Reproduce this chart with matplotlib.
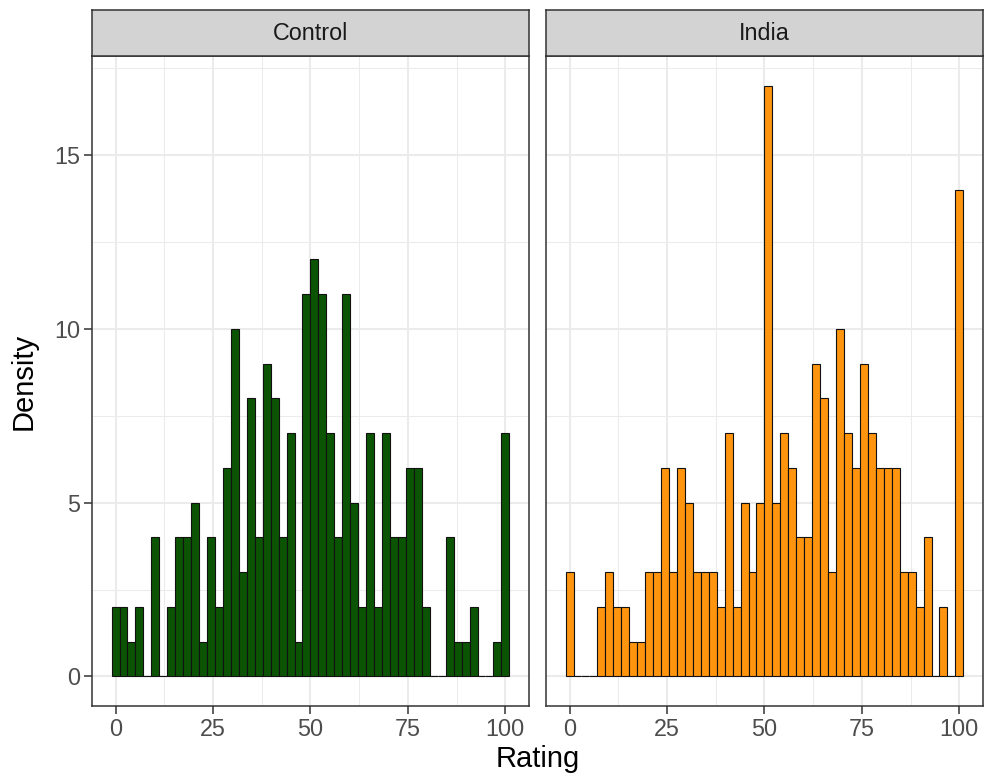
import numpy as np
import matplotlib
matplotlib.use("Agg")
import matplotlib.pyplot as plt

plt.rcParams['font.family'] = ['Liberation Sans', 'DejaVu Sans']

# histogram counts per bin (50 bins over 0-100)
control_counts = [2, 2, 1, 2, 0, 4, 0, 2, 4, 4,
                  5, 1, 4, 2, 6, 10, 3, 8, 4, 9,
                  8, 4, 7, 1, 11, 12, 11, 7, 4, 11,
                  5, 2, 7, 2, 7, 4, 4, 6, 6, 2,
                  0, 0, 4, 1, 1, 2, 0, 0, 1, 7]
india_counts = [3, 0, 0, 0, 2, 3, 2, 2, 1, 1,
                3, 3, 6, 3, 6, 5, 3, 3, 3, 2,
                7, 2, 5, 3, 5, 17, 5, 7, 6, 4,
                4, 9, 8, 3, 10, 7, 6, 9, 7, 6,
                6, 6, 3, 3, 2, 4, 0, 2, 0, 14]
panels = ['Control', 'India']
fills = ['#0B5404', '#FF950E']
x_ticks = [0, 25, 50, 75, 100]
y_ticks = [0, 5, 10, 15]

n_bins = 50
binwidth = 100 / (n_bins - 1)
centers = np.arange(n_bins) * binwidth

W, H = 984, 781
fig = plt.figure(figsize=(W / 100, H / 100), dpi=100)

grid_col = '#EBEBEB'
dark = '#333333'

xlim = (-1.02 - 5.1, 101.02 + 5.1)
ylim = (-0.85, 17.85)

lefts = [91.7, 545.7]
pw = 437.5
top, bottom = 56, 706
strip_top = 10

for i, (name, counts, fc) in enumerate(zip(panels, [control_counts, india_counts], fills)):
    x0 = lefts[i]
    ax = fig.add_axes([x0 / W, (H - bottom) / H, pw / W, (bottom - top) / H])
    ax.set_xlim(*xlim)
    ax.set_ylim(*ylim)
    ax.set_xticks(x_ticks)
    ax.set_xticks([12.5, 37.5, 62.5, 87.5], minor=True)
    ax.set_yticks(y_ticks)
    ax.set_yticks([2.5, 7.5, 12.5, 17.5], minor=True)
    ax.grid(which='major', color=grid_col, lw=1.5, zorder=0)
    ax.grid(which='minor', color=grid_col, lw=0.75, zorder=0)
    ax.set_axisbelow(True)
    ax.bar(centers, counts, width=binwidth, color=fc, edgecolor='#111111',
           linewidth=0.8, zorder=2)
    for s in ax.spines.values():
        s.set_color(dark)
        s.set_linewidth(1.1)
    ax.tick_params(which='major', length=5.5, width=1.1, color=dark,
                   labelsize=16.8, labelcolor='#4D4D4D', pad=3)
    ax.tick_params(which='minor', length=0)
    if i == 1:
        ax.tick_params(axis='y', which='both', left=False, labelleft=False)

    # facet strip
    sax = fig.add_axes([x0 / W, (H - top) / H, pw / W, (top - strip_top) / H])
    sax.set_facecolor('#D3D3D3')
    sax.set_xticks([])
    sax.set_yticks([])
    for s in sax.spines.values():
        s.set_color(dark)
        s.set_linewidth(1.1)
    sax.text(0.5, 0.5, name, ha='center', va='center', fontsize=16.8,
             color='#1A1A1A', transform=sax.transAxes)

fig.text((lefts[0] + lefts[1] + pw) / 2 / W, 8 / H, 'Rating', ha='center',
         va='bottom', fontsize=21)
fig.text(24 / W, (H - (top + bottom) / 2) / H, 'Density', ha='center',
         va='center', rotation=90, fontsize=21)

fig.savefig('out.png', dpi=100)
